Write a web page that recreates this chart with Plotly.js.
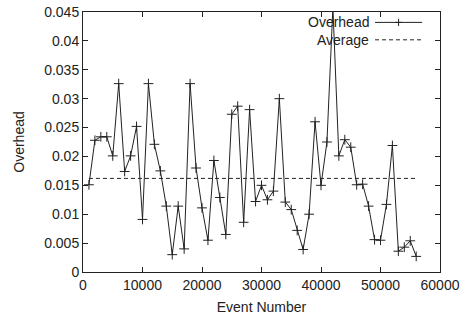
<!DOCTYPE html>
<html>
<head>
<meta charset="utf-8">
<script src="https://cdn.plot.ly/plotly-3.0.1.min.js"></script>
<style>html,body{margin:0;padding:0;background:#fff;}#chart{width:465px;height:320px;}</style>
</head>
<body>
<div id="chart"></div>
<script>
var eventNumbers = [1000,2000,3000,4000,5000,6000,7000,8000,9000,10000,
  11000,12000,13000,14000,15000,16000,17000,18000,19000,20000,
  21000,22000,23000,24000,25000,26000,27000,28000,29000,30000,
  31000,32000,33000,34000,35000,36000,37000,38000,39000,40000,
  41000,42000,43000,44000,45000,46000,47000,48000,49000,50000,
  51000,52000,53000,54000,55000,56000];
var overhead = [0.0151,0.0228,0.0234,0.0234,0.0201,0.0326,0.0174,0.0201,0.0252,0.0091,
  0.0326,0.0221,0.0175,0.0114,0.0030,0.0114,0.0040,0.0326,0.0180,0.0111,
  0.0055,0.0193,0.0129,0.0065,0.0273,0.0287,0.0086,0.0281,0.0122,0.0150,
  0.0125,0.0140,0.0300,0.0121,0.0108,0.0072,0.0039,0.0100,0.0260,0.0150,
  0.0225,0.0458,0.0201,0.0229,0.0216,0.0151,0.0152,0.0114,0.0056,0.0055,
  0.0117,0.0219,0.0036,0.0043,0.0054,0.0027];
var averageX = [1000, 56000];
var averageY = [0.0162, 0.0162];
var xTickVals = [0,10000,20000,30000,40000,50000,60000];
var xTickText = ["0","10000","20000","30000","40000","50000","60000"];
var yTickVals = [0,0.005,0.01,0.015,0.02,0.025,0.03,0.035,0.04,0.045];
var yTickText = ["0","0.005","0.01","0.015","0.02","0.025","0.03","0.035","0.04","0.045"];
var seriesNames = ["Overhead","Average"];

var font = {family: "Liberation Sans, Arial, sans-serif", size: 14, color: "#222"};

var traces = [
  {x: eventNumbers, y: overhead, type: "scatter", mode: "lines+markers", name: seriesNames[0],
   cliponaxis: false,
   line: {color: "#222", width: 1},
   marker: {symbol: "cross-thin", size: 7, color: "#222", line: {color: "#222", width: 1}}},
  {x: averageX, y: averageY, type: "scatter", mode: "lines", name: seriesNames[1],
   line: {color: "#222", width: 1, dash: "4px,3px"}}
];

var axisCommon = {showgrid: false, zeroline: false, showline: true, linecolor: "#222", linewidth: 1,
  mirror: "allticks", ticks: "inside", ticklen: 5, tickwidth: 1, tickcolor: "#222", tickfont: font};

var layout = {
  width: 465, height: 320,
  margin: {l: 83, r: 25, t: 12, b: 48},
  paper_bgcolor: "#fff", plot_bgcolor: "#fff",
  showlegend: false,
  font: font,
  xaxis: Object.assign({}, axisCommon, {range: [0, 60000], tickvals: xTickVals, ticktext: xTickText,
    title: {text: "Event Number", font: font, standoff: 10}}),
  yaxis: Object.assign({}, axisCommon, {range: [0, 0.045], tickvals: yTickVals, ticktext: yTickText,
    title: {text: "Overhead", font: font, standoff: 16}}),
  annotations: [
    {xref: "paper", yref: "paper", x: 0.806, y: 0.96, xanchor: "right", yanchor: "middle",
     text: seriesNames[0], showarrow: false, font: font},
    {xref: "paper", yref: "paper", x: 0.806, y: 0.893, xanchor: "right", yanchor: "middle",
     text: seriesNames[1], showarrow: false, font: font}
  ],
  shapes: [
    {type: "line", xref: "paper", yref: "paper", x0: 0.818, x1: 0.950, y0: 0.96, y1: 0.96,
     line: {color: "#222", width: 1}},
    {type: "line", xref: "paper", yref: "paper", x0: 0.874, x1: 0.894, y0: 0.96, y1: 0.96,
     line: {color: "#222", width: 1}},
    {type: "line", xref: "paper", yref: "paper", x0: 0.884, x1: 0.884, y0: 0.946, y1: 0.974,
     line: {color: "#222", width: 1}},
    {type: "line", xref: "paper", yref: "paper", x0: 0.818, x1: 0.950, y0: 0.893, y1: 0.893,
     line: {color: "#222", width: 1, dash: "4px,3px"}}
  ]
};

Plotly.newPlot("chart", traces, layout, {staticPlot: true, displayModeBar: false});
</script>
</body>
</html>
